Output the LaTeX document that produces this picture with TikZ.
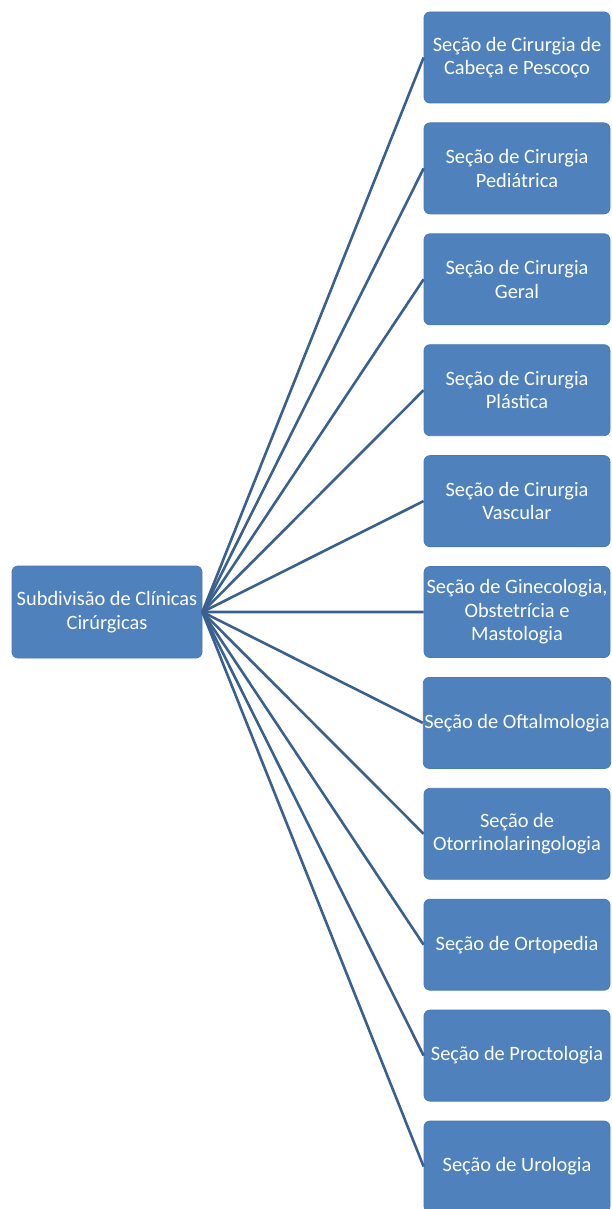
\documentclass[tikz,border=0pt]{standalone}
\usepackage{fontspec}
\setmainfont{Carlito}
\definecolor{boxblue}{HTML}{4F81BD}
\definecolor{boxedge}{HTML}{4A7AB5}
\definecolor{linkblue}{HTML}{3A6090}
\begin{document}
\begin{tikzpicture}[x=1pt,y=-1pt,
  unit/.style={fill=boxblue,draw=boxedge,line width=0.8pt,rounded corners=6pt,
    minimum width=186pt,minimum height=91pt,inner sep=1pt,align=center,
    text=white,font=\fontsize{20.4}{23.5}\selectfont},
  rootbox/.style={unit,minimum width=190pt,minimum height=92pt},
  link/.style={draw=linkblue,line width=2.6pt}]
\useasboundingbox (0,0) rectangle (611,1209);
% root
\node[rootbox] (root) at (107,612) {Subdivisão de Clínicas\\Cirúrgicas};
% sections, one every 110.9pt
\foreach \i/\txt in {0/{Seção de Cirurgia de\\Cabeça e Pescoço},
  1/{Seção de Cirurgia\\Pediátrica},
  2/{Seção de Cirurgia\\Geral},
  3/{Seção de Cirurgia\\Plástica},
  4/{Seção de Cirurgia\\Vascular},
  5/{Seção de Ginecologia,\\Obstetrícia e\\Mastologia},
  6/{Seção de Oftalmologia},
  7/{Seção de\\Otorrinolaringologia},
  8/{Seção de Ortopedia},
  9/{Seção de Proctologia},
  10/{Seção de Urologia}}{
  \node[unit] (s\i) at (517,57.5+110.9*\i) {\txt};
  \draw[link] (root.east) -- (s\i.west);
}
\end{tikzpicture}
\end{document}
